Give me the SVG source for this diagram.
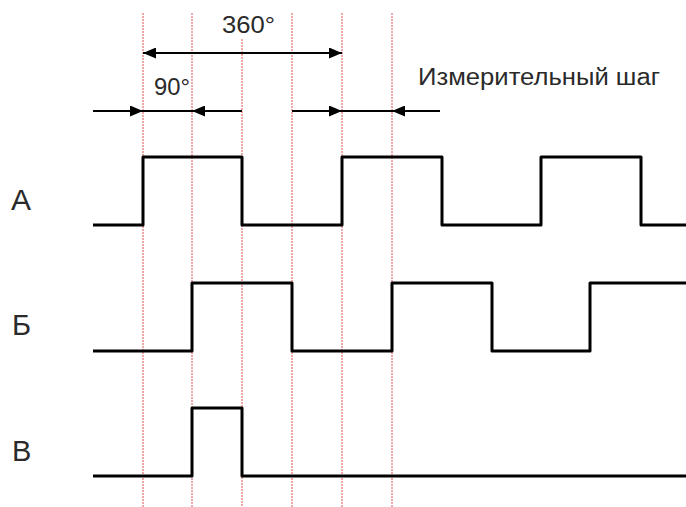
<svg xmlns="http://www.w3.org/2000/svg" width="686" height="507" viewBox="0 0 686 507">
<style>
.grid{stroke:#e05050;stroke-width:1;stroke-dasharray:2,1;fill:none}
.sig{stroke:#000;stroke-width:3;fill:none;stroke-linejoin:round}
.arr{stroke:#000;stroke-width:2;fill:none}
.lbl{font-family:"Liberation Sans",Arial,sans-serif;fill:#2a2a2a}
</style>
<defs>
<marker id="ah" viewBox="0 0 13 11" refX="13" refY="5.5" markerWidth="13" markerHeight="11" markerUnits="userSpaceOnUse" orient="auto-start-reverse">
<path d="M0,0 L13,5.5 L0,11 Z" fill="#000"/>
</marker>
</defs>
<rect width="686" height="507" fill="#fff"/>
<g id="gridlines">
<line class="grid" x1="143" y1="13" x2="143" y2="507"/>
<line class="grid" x1="192" y1="13" x2="192" y2="507"/>
<line class="grid" x1="242" y1="39" x2="242" y2="507"/>
<line class="grid" x1="292" y1="13" x2="292" y2="507"/>
<line class="grid" x1="342" y1="13" x2="342" y2="507"/>
<line class="grid" x1="392" y1="13" x2="392" y2="507"/>
</g>
<g id="connectors">
<line class="arr" x1="143" y1="53" x2="342" y2="53" marker-start="url(#ah)" marker-end="url(#ah)"/>
<line class="arr" x1="93" y1="111" x2="143" y2="111" marker-end="url(#ah)"/>
<line class="arr" x1="143" y1="111" x2="192" y2="111"/>
<line class="arr" x1="242" y1="111" x2="192" y2="111" marker-end="url(#ah)"/>
<line class="arr" x1="292" y1="111" x2="342" y2="111" marker-end="url(#ah)"/>
<line class="arr" x1="342" y1="111" x2="392" y2="111"/>
<line class="arr" x1="440" y1="111" x2="392" y2="111" marker-end="url(#ah)"/>
</g>
<g id="labels">
<text class="lbl" x="222" y="33" font-size="24" textLength="53" lengthAdjust="spacingAndGlyphs">360°</text>
<text class="lbl" x="154" y="95" font-size="24" textLength="36" lengthAdjust="spacingAndGlyphs">90°</text>
<text class="lbl" x="418" y="85" font-size="23" textLength="242" lengthAdjust="spacingAndGlyphs">Измерительный шаг</text>
</g>
<g id="signal-A">
<text class="lbl" x="11" y="210" font-size="30">A</text>
<path class="sig" d="M93,225 H143 V157 H242 V225 H342 V157 H442 V225 H541 V157 H641 V225 H686"/>
</g>
<g id="signal-B">
<text class="lbl" x="12" y="335" font-size="29">Б</text>
<path class="sig" d="M93,351 H192 V283 H292 V351 H392 V283 H492 V351 H590 V283 H686"/>
</g>
<g id="signal-V">
<text class="lbl" x="12" y="461" font-size="29">В</text>
<path class="sig" d="M93,476 H192 V408 H242 V476 H686"/>
</g>
</svg>
